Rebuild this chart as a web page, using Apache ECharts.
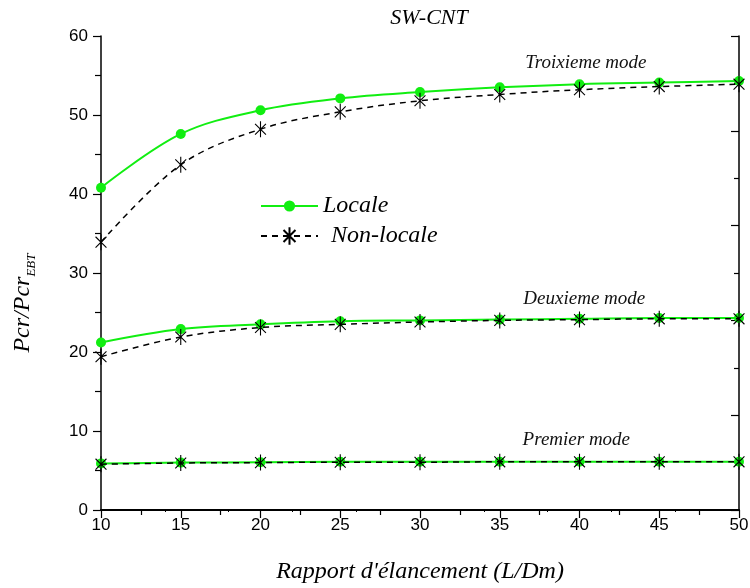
<!DOCTYPE html>
<html>
<head>
<meta charset="utf-8">
<script src="https://cdn.jsdelivr.net/npm/echarts@6/dist/echarts.min.js"></script>
<style>html,body{margin:0;padding:0;background:#fff;}#c{width:750px;height:588px;}</style>
</head>
<body>
<div id="c"></div>
<script>
var xVals = [10, 15, 20, 25, 30, 35, 40, 45, 50];
var mode3Local = [40.8, 47.6, 50.6, 52.1, 52.9, 53.5, 53.9, 54.1, 54.3];
var mode3Nonlocal = [33.9, 43.7, 48.2, 50.4, 51.8, 52.6, 53.2, 53.6, 53.9];
var mode2Local = [21.2, 22.9, 23.5, 23.9, 24.0, 24.1, 24.2, 24.3, 24.3];
var mode2Nonlocal = [19.4, 21.9, 23.1, 23.5, 23.8, 24.0, 24.1, 24.2, 24.2];
var mode1Local = [5.9, 6.0, 6.05, 6.1, 6.1, 6.1, 6.1, 6.1, 6.1];
var mode1Nonlocal = [5.8, 5.95, 6.0, 6.05, 6.05, 6.1, 6.1, 6.1, 6.1];
var modeLabels = [
  {text: 'Troixieme mode', x: 40.4, y: 56.6},
  {text: 'Deuxieme mode', x: 40.3, y: 26.7},
  {text: 'Premier mode', x: 39.8, y: 8.9}
];

var serif = 'Liberation Serif, Times New Roman, serif';
var sans = 'Liberation Sans, Arial, sans-serif';
var green = '#11ee11';
var starPath = 'path://M5,0L5,10M1.6,1.6L8.4,8.4M1.6,8.4L8.4,1.6M0,5L0,5M10,5L10,5';

function pairs(arr) { return xVals.map(function (x, i) { return [x, arr[i]]; }); }

function localSeries(arr, label) {
  var s = {
    name: 'Locale', type: 'line', data: pairs(arr), smooth: 0.35,
    symbol: 'circle', symbolSize: 10, z: 2,
    itemStyle: {color: green},
    lineStyle: {color: green, width: 2}
  };
  if (label) {
    s.markPoint = {
      symbol: 'circle', symbolSize: 1, itemStyle: {color: 'rgba(0,0,0,0)'},
      label: {show: true, position: 'inside', formatter: label.text, color: '#111',
              fontFamily: serif, fontStyle: 'italic', fontSize: 19},
      data: [{coord: [label.x, label.y]}]
    };
  }
  return s;
}
function nonlocalSeries(arr) {
  return {
    name: 'Non-locale', type: 'line', data: pairs(arr), smooth: 0.35,
    symbol: starPath, symbolSize: 16, z: 3,
    itemStyle: {color: '#000', borderColor: '#000', borderWidth: 1.1},
    lineStyle: {color: '#000', width: 1.5, type: [6, 5]}
  };
}

var legendText = {fontFamily: serif, fontStyle: 'italic', fontSize: 24, color: '#000'};

var chart = echarts.init(document.getElementById('c'));
chart.setOption({
  animation: false,
  backgroundColor: '#fff',
  title: {
    text: 'SW-CNT', left: 424, textAlign: 'center', top: 2,
    textStyle: {fontFamily: serif, fontStyle: 'italic', fontWeight: 'normal', fontSize: 22, color: '#000'}
  },
  legend: [{
    data: ['Locale'], orient: 'vertical', left: 255, top: 189,
    itemWidth: 57, itemHeight: 14, itemGap: 5, textStyle: legendText
  }, {
    data: ['Non-locale'], orient: 'vertical', left: 255, top: 219,
    itemWidth: 57, itemHeight: 22, itemGap: 5,
    textStyle: Object.assign({padding: [0, 0, 0, 8]}, legendText)
  }],
  grid: {left: 101, right: 11, top: 36, bottom: 78, outerBoundsMode: 'none', containLabel: false},
  xAxis: [{
    type: 'value', min: 10, max: 50, interval: 5, position: 'bottom',
    name: "Rapport d'élancement (L/Dm)", nameLocation: 'middle', nameGap: 50,
    nameTextStyle: {fontFamily: serif, fontStyle: 'italic', fontSize: 24, color: '#000'},
    axisLine: {lineStyle: {color: '#000', width: 1.5}},
    axisTick: {inside: false, length: 8, lineStyle: {color: '#000', width: 1.2}},
    minorTick: {show: true, splitNumber: 2, length: 5, lineStyle: {color: '#000', width: 1.2}},
    axisLabel: {fontFamily: sans, fontSize: 17, color: '#000', margin: 7},
    splitLine: {show: false}
  }, {
    type: 'value', min: 10, max: 50, interval: 4, position: 'top',
    axisLine: {lineStyle: {color: '#000', width: 2}},
    axisTick: {inside: true, length: 2, lineStyle: {color: '#000'}},
    axisLabel: {show: false}, splitLine: {show: false}
  }],
  yAxis: [{
    type: 'value', min: 0, max: 60, interval: 10, position: 'left',
    name: '{a|Pcr/Pcr}{b|EBT}', nameLocation: 'middle', nameGap: 63,
    nameTextStyle: {
      padding: [0, 60, 0, 0],
      rich: {
        a: {fontFamily: serif, fontStyle: 'italic', fontSize: 24, color: '#000', lineHeight: 31},
        b: {fontFamily: serif, fontStyle: 'italic', fontSize: 13, color: '#000', lineHeight: 12, verticalAlign: 'bottom'}
      }
    },
    axisLine: {lineStyle: {color: '#000', width: 1.5}},
    axisTick: {inside: false, length: 8, lineStyle: {color: '#000', width: 1.2}},
    minorTick: {show: true, splitNumber: 2, length: 6, lineStyle: {color: '#000', width: 1.2}},
    axisLabel: {fontFamily: sans, fontSize: 17, color: '#000', margin: 13},
    splitLine: {show: false}
  }, {
    type: 'value', min: 0, max: 60, interval: 12, position: 'right',
    axisLine: {lineStyle: {color: '#000', width: 1.5}},
    axisTick: {inside: true, length: 8, lineStyle: {color: '#000', width: 1.2}},
    minorTick: {show: true, splitNumber: 2, length: 5, lineStyle: {color: '#000', width: 1.2}},
    axisLabel: {show: false}, splitLine: {show: false}
  }],
  series: [
    localSeries(mode3Local, modeLabels[0]),
    localSeries(mode2Local, modeLabels[1]),
    localSeries(mode1Local, modeLabels[2]),
    nonlocalSeries(mode3Nonlocal),
    nonlocalSeries(mode2Nonlocal),
    nonlocalSeries(mode1Nonlocal)
  ]
});
</script>
</body>
</html>
